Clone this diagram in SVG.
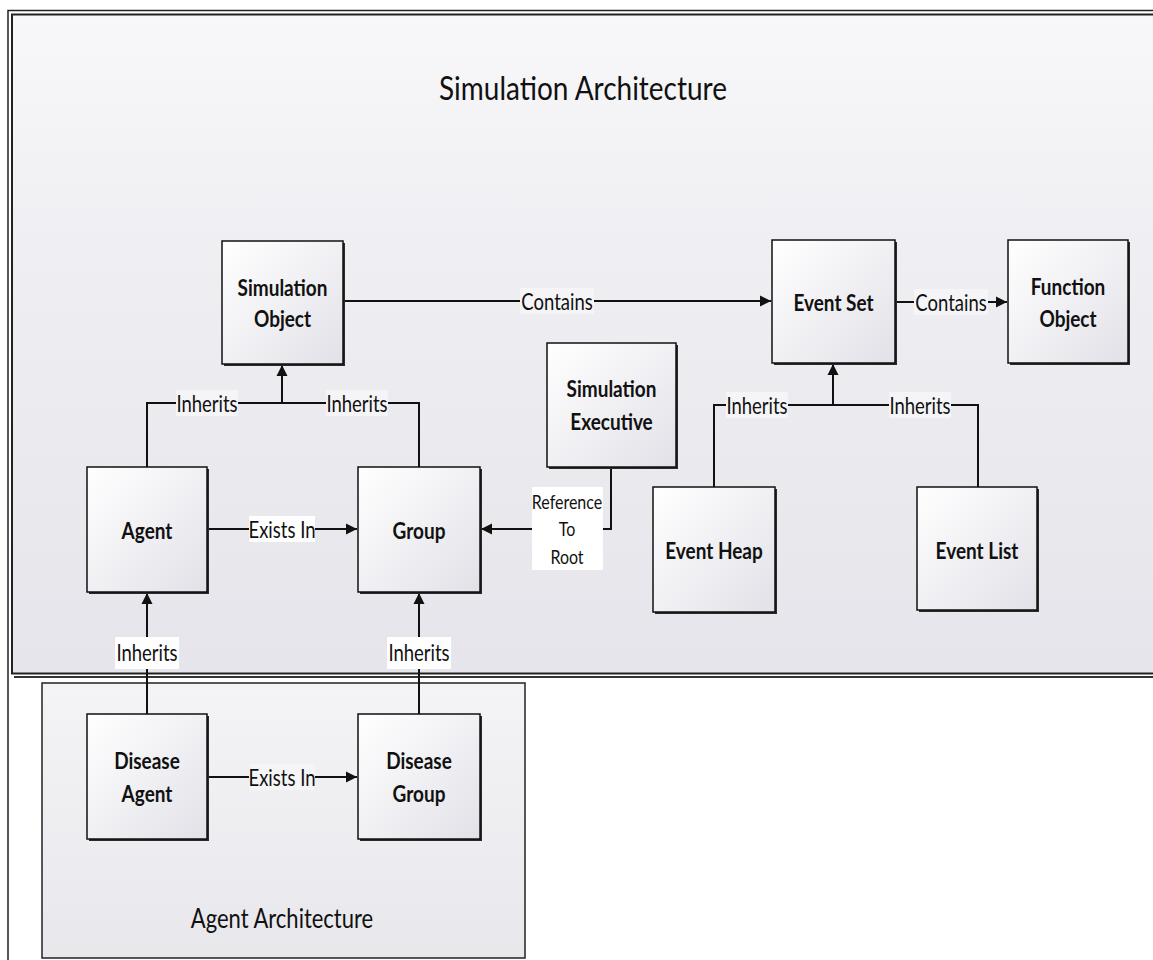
<svg xmlns="http://www.w3.org/2000/svg" width="1153" height="960" viewBox="0 0 1153 960">
<style>
.node{fill:url(#nodeGrad);stroke:#111;stroke-width:1.5}
.shadow{fill:#2a2a2a}
.nt{font-family:Lato,"Open Sans","Liberation Sans",sans-serif;font-weight:bold;font-size:19px;fill:#111;text-anchor:middle;dominant-baseline:central}
.lt{font-family:Lato,"Open Sans","Liberation Sans",sans-serif;font-size:18.5px;fill:#111;text-anchor:middle;dominant-baseline:central}
.st{font-family:Lato,"Open Sans","Liberation Sans",sans-serif;font-size:16px;fill:#111;text-anchor:middle;dominant-baseline:central}
.ttl{font-family:Lato,"Open Sans","Liberation Sans",sans-serif;font-size:28px;fill:#111;text-anchor:middle;dominant-baseline:central}
.conn{fill:none;stroke:#111;stroke-width:2}
.arr{fill:none;stroke:#111;stroke-width:2;marker-end:url(#ah)}
.lbg{fill:#f5f5f7}
.wbg{fill:#ffffff}
</style>
<defs>
<linearGradient id="nodeGrad" x1="0" y1="0" x2="1" y2="1">
<stop offset="0" stop-color="#ffffff"/>
<stop offset="1" stop-color="#e2e1e8"/>
</linearGradient>
<linearGradient id="panelGrad" x1="0" y1="0" x2="0" y2="1">
<stop offset="0" stop-color="#f8f8fa"/>
<stop offset="0.35" stop-color="#efeef2"/>
<stop offset="1" stop-color="#e6e5eb"/>
</linearGradient>
<linearGradient id="agentGrad" x1="0" y1="0" x2="0" y2="1">
<stop offset="0" stop-color="#f4f4f6"/>
<stop offset="1" stop-color="#e8e7ec"/>
</linearGradient>
<marker id="ah" markerWidth="12" markerHeight="12" refX="11" refY="6" orient="auto" markerUnits="userSpaceOnUse">
<path d="M0,0.5 L11,6 L0,11.5 Z" fill="#111"/>
</marker>
</defs>

<rect x="0" y="0" width="1153" height="960" fill="#ffffff"/>

<g id="frame">
<rect x="8" y="10.5" width="1160" height="960" fill="none" stroke="#222" stroke-width="1.5"/>
</g>

<g id="simulation-architecture">
<rect x="14" y="676" width="1150" height="2" fill="#333"/>
<rect x="12" y="14.5" width="1150" height="659" fill="url(#panelGrad)" stroke="#222" stroke-width="2"/>
<text class="ttl" transform="translate(583,87) scale(1,1.15)">Simulation Architecture</text>
</g>

<g id="agent-architecture">
<rect x="42" y="683" width="483" height="275" fill="url(#agentGrad)" stroke="#222" stroke-width="1.5"/>
<text class="ttl" style="font-size:22px" transform="translate(282,918) scale(1,1.2)">Agent Architecture</text>
</g>

<g id="connectors">
<path class="arr" d="M343,301 H771"/>
<path class="arr" d="M895,302 H1007"/>
<path class="conn" d="M147,467 V403 H419 V467"/>
<path class="arr" d="M282,403 V365"/>
<path class="conn" d="M714,487 V405 H978 V487"/>
<path class="arr" d="M833,405 V364"/>
<path class="arr" d="M611,467 V529 H481"/>
<path class="arr" d="M207,529 H357"/>
<path class="arr" d="M207,777 H357"/>
<path class="arr" d="M147,714 V593"/>
<path class="arr" d="M419,714 V593"/>

<rect class="lbg" x="520" y="288" width="74" height="26"/>
<text class="lt" transform="translate(557,301) scale(1,1.2)">Contains</text>
<rect class="lbg" x="914" y="289" width="74" height="26"/>
<text class="lt" transform="translate(951,302) scale(1,1.2)">Contains</text>
<rect class="lbg" x="176" y="390" width="62" height="26"/>
<text class="lt" transform="translate(207,403) scale(1,1.2)">Inherits</text>
<rect class="lbg" x="326" y="390" width="62" height="26"/>
<text class="lt" transform="translate(357,403) scale(1,1.2)">Inherits</text>
<rect class="lbg" x="726" y="392" width="62" height="26"/>
<text class="lt" transform="translate(757,405) scale(1,1.2)">Inherits</text>
<rect class="lbg" x="889" y="392" width="62" height="26"/>
<text class="lt" transform="translate(920,405) scale(1,1.2)">Inherits</text>
<rect class="wbg" x="532" y="487" width="71" height="83"/>
<text class="st" transform="translate(567,502) scale(1,1.2)">Reference</text>
<text class="st" transform="translate(567,529) scale(1,1.2)">To</text>
<text class="st" transform="translate(567,557) scale(1,1.2)">Root</text>
<rect class="wbg" x="249" y="516" width="66" height="26"/>
<text class="lt" transform="translate(282,529) scale(1,1.2)">Exists In</text>
<rect class="lbg" x="249" y="764" width="66" height="26"/>
<text class="lt" transform="translate(282,777) scale(1,1.2)">Exists In</text>
<rect class="wbg" x="115" y="637" width="64" height="32"/>
<text class="lt" transform="translate(147,652) scale(1,1.2)">Inherits</text>
<rect class="wbg" x="387" y="637" width="64" height="32"/>
<text class="lt" transform="translate(419,652) scale(1,1.2)">Inherits</text>
</g>

<g id="node-simulation-object">
<rect class="shadow" x="224" y="243" width="121" height="123"/>
<rect class="node" x="222" y="241" width="121" height="123"/>
<text class="nt" transform="translate(282.5,287) scale(1,1.2)">Simulation</text>
<text class="nt" transform="translate(282.5,318) scale(1,1.2)">Object</text>
</g>
<g id="node-event-set">
<rect class="shadow" x="774" y="242" width="123" height="123"/>
<rect class="node" x="772" y="240" width="123" height="123"/>
<text class="nt" transform="translate(833.5,302) scale(1,1.2)">Event Set</text>
</g>
<g id="node-function-object">
<rect class="shadow" x="1010" y="242" width="120" height="123"/>
<rect class="node" x="1008" y="240" width="120" height="123"/>
<text class="nt" transform="translate(1068,286) scale(1,1.2)">Function</text>
<text class="nt" transform="translate(1068,318) scale(1,1.2)">Object</text>
</g>
<g id="node-simulation-executive">
<rect class="shadow" x="549" y="345" width="129" height="124"/>
<rect class="node" x="547" y="343" width="129" height="124"/>
<text class="nt" transform="translate(611.5,388) scale(1,1.2)">Simulation</text>
<text class="nt" transform="translate(611.5,421) scale(1,1.2)">Executive</text>
</g>
<g id="node-agent">
<rect class="shadow" x="89" y="469" width="120" height="125"/>
<rect class="node" x="87" y="467" width="120" height="125"/>
<text class="nt" transform="translate(147,529.5) scale(1,1.2)">Agent</text>
</g>
<g id="node-group">
<rect class="shadow" x="360" y="469" width="122" height="125"/>
<rect class="node" x="358" y="467" width="122" height="125"/>
<text class="nt" transform="translate(419,529.5) scale(1,1.2)">Group</text>
</g>
<g id="node-event-heap">
<rect class="shadow" x="655" y="489" width="122" height="125"/>
<rect class="node" x="653" y="487" width="122" height="125"/>
<text class="nt" transform="translate(714,550) scale(1,1.2)">Event Heap</text>
</g>
<g id="node-event-list">
<rect class="shadow" x="919" y="489" width="120" height="123"/>
<rect class="node" x="917" y="487" width="120" height="123"/>
<text class="nt" transform="translate(977,550) scale(1,1.2)">Event List</text>
</g>
<g id="node-disease-agent">
<rect class="shadow" x="89" y="716" width="120" height="125"/>
<rect class="node" x="87" y="714" width="120" height="125"/>
<text class="nt" transform="translate(147,760) scale(1,1.2)">Disease</text>
<text class="nt" transform="translate(147,793) scale(1,1.2)">Agent</text>
</g>
<g id="node-disease-group">
<rect class="shadow" x="360" y="716" width="122" height="125"/>
<rect class="node" x="358" y="714" width="122" height="125"/>
<text class="nt" transform="translate(419,760) scale(1,1.2)">Disease</text>
<text class="nt" transform="translate(419,793) scale(1,1.2)">Group</text>
</g>
</svg>
